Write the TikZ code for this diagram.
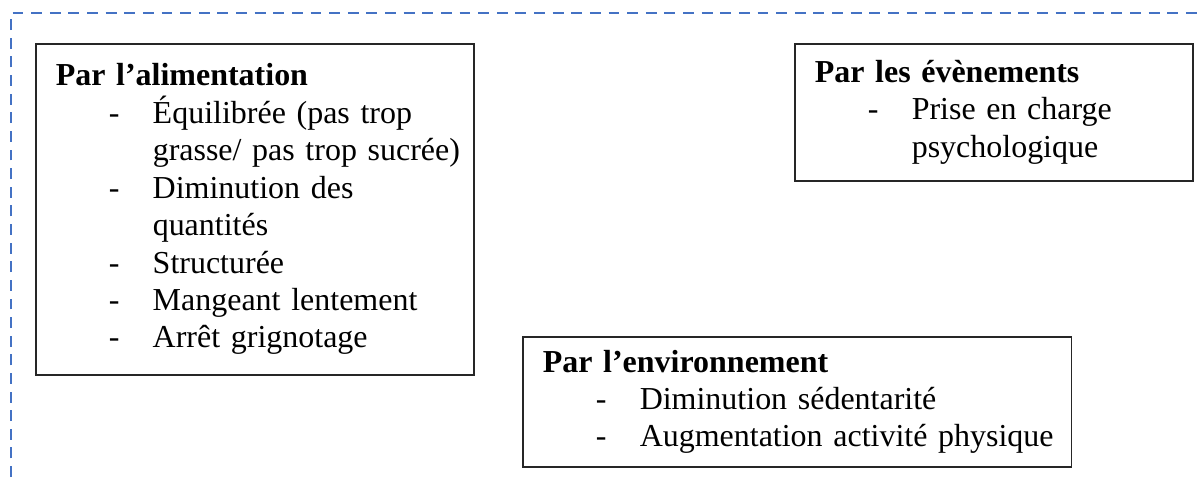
\documentclass[tikz,border=0pt]{standalone}
\usepackage{fontspec}
\setmainfont{Liberation Serif}
\usepackage{xcolor}
\usetikzlibrary{positioning}
\definecolor{bleuword}{RGB}{68,114,196}
% une ligne de liste, puis sa suite
\newcommand{\tiret}[1]{\par\noindent\hspace*{1.06cm}\makebox[0.88cm][l]{-}\mbox{#1}}
\newcommand{\suite}[1]{\par\noindent\hspace*{1.94cm}\mbox{#1}}

\begin{document}
\begin{tikzpicture}[x=0.02cm,y=-0.02cm,font=\fontsize{18.2}{21.3}\selectfont]
\tikzstyle{cadre}=[draw=bleuword,line width=1.7pt,dash pattern=on 6.2pt off 4.4pt]
\tikzstyle{boite}=[draw=black!85,line width=0.9pt,anchor=north west,inner sep=0pt,align=left]
\useasboundingbox (0,0) rectangle (1202,477);
\draw[cadre] (11,477) -- (11,13) -- (1202,13);
\node[boite,minimum width=8.76cm,minimum height=6.62cm,text width=7.96cm] (alim) at (35,43)
  {\noindent\textbf{Par l’alimentation}
   \tiret{Équilibrée (pas trop}
   \suite{grasse/ pas trop sucrée)}
   \tiret{Diminution des}
   \suite{quantités}
   \tiret{Structurée}
   \tiret{Mangeant lentement}
   \tiret{Arrêt grignotage}};
\node[boite,minimum width=7.96cm,minimum height=2.74cm,text width=7.16cm] (even) at (794,43)
  {\noindent\textbf{Par les évènements}
   \tiret{Prise en charge}
   \suite{psychologique}};
\node[boite,minimum width=10.98cm,minimum height=2.6cm,text width=10.18cm] (envi) at (522,336)
  {\noindent\textbf{Par l’environnement}
   \tiret{Diminution sédentarité}
   \tiret{Augmentation activité physique}};
\end{tikzpicture}
\end{document}
